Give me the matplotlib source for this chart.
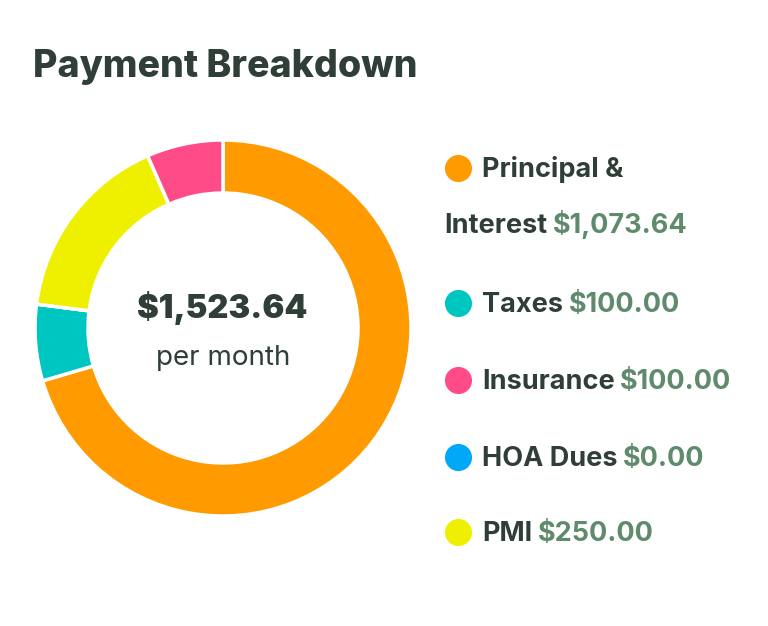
import matplotlib
matplotlib.use("Agg")
import matplotlib.pyplot as plt

# data
labels = ["Principal &\nInterest", "Taxes", "Insurance", "HOA Dues", "PMI"]
amounts = [1073.64, 100.00, 100.00, 0.00, 250.00]
colors = ["#ff9a00", "#00c6c2", "#ff4b88", "#00a8f7", "#eef000"]
# order of wedges clockwise from the top
pie_order = [0, 1, 3, 4, 2]

DARK = "#2f3e36"
GREEN = "#5f8b6c"
FONT = "Inter"

fig = plt.figure(figsize=(7.68, 6.26), dpi=100)
ax = fig.add_axes([0, 0, 1, 1])

H = 626
ax.pie([amounts[i] for i in pie_order],
       colors=[colors[i] for i in pie_order],
       startangle=90, counterclock=False,
       center=(223, H - 328), radius=188, frame=True,
       wedgeprops=dict(width=53, edgecolor="white", linewidth=2.5))
ax.set_xlim(0, 768)
ax.set_ylim(0, H)
ax.set_aspect("equal")
ax.axis("off")

ax.text(33, H - 77, "Payment Breakdown", fontsize=27, fontweight="heavy",
        family=FONT, color=DARK, va="baseline")

total = sum(amounts)
ax.text(222, H - 318, f"${total:,.2f}", fontsize=23.5, fontweight="black",
        family=FONT, color=DARK, ha="center", va="baseline")
ax.text(223, H - 365, "per month", fontsize=20, family=FONT,
        color=DARK, ha="center", va="baseline")

# legend
fs = 19.5
rows_y = [177, 312, 389, 466, 541]
for i, (lab, amt, col) in enumerate(zip(labels, amounts, colors)):
    y = rows_y[i]
    ax.scatter(458, H - y + 9, s=380, color=col, zorder=3, linewidths=0)
    if "\n" in lab:
        first, second = lab.split("\n")
        ax.text(482, H - y, first, fontsize=fs, fontweight="bold",
                family=FONT, color=DARK, va="baseline")
        t = ax.text(444, H - y - 56, second, fontsize=fs, fontweight="bold",
                    family=FONT, color=DARK, va="baseline")
    else:
        t = ax.text(482, H - y, lab, fontsize=fs, fontweight="bold",
                    family=FONT, color=DARK, va="baseline")
    ax.annotate(f"${amt:,.2f}", xy=(1, 0), xycoords=t, xytext=(4, 0),
                textcoords="offset points", fontsize=fs, fontweight="bold",
                family=FONT, color=GREEN, va="bottom")

fig.savefig("out.png", dpi=100, facecolor="white")
